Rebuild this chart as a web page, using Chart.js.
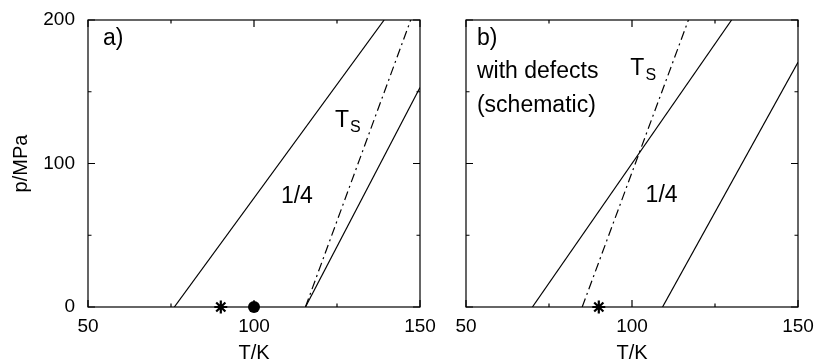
<!DOCTYPE html>
<html>
<head>
<meta charset="utf-8">
<script src="https://cdn.jsdelivr.net/npm/chart.js@4"></script>
<style>
    html, body { margin: 0; padding: 0; background: #fff; overflow: hidden; }
    #wrap { position: relative; width: 815px; height: 360px; }
    canvas { position: absolute; top: 0; }
</style>
</head>
<body>
<div id="wrap">
    <canvas id="chartA" width="440" height="360" style="left:0"></canvas>
    <canvas id="chartB" width="385" height="360" style="left:430px"></canvas>
</div>
<script>
// axis ticks (both panels share them)
const xMajorTicks = [50, 100, 150];
const xMinorTicks = [75, 125];
const yMajorTicks = [0, 100, 200];
const yMinorTicks = [50, 150];

// panel a) - T in K, p in MPa
const aQuarterT = [76, 139.2];
const aQuarterP = [0, 200];
const aUpperT = [115.5, 150];
const aUpperP = [0, 153];
const aTsT = [115.5, 147.2];
const aTsP = [0, 200];
const aStarT = [90];
const aStarP = [0];
const aDotT = [100];
const aDotP = [0];

// panel b) with defects
const bQuarterT = [70, 130];
const bQuarterP = [0, 200];
const bUpperT = [109.2, 150];
const bUpperP = [0, 170.5];
const bTsT = [85, 117];
const bTsP = [0, 200];
const bStarT = [90];
const bStarP = [0];

// text placed in data coordinates
const aLabels = [
    { text: 'a)', t: 54.5, p: 182.6 },
    { text: '1/4', t: 108.1, p: 72.5 },
    { text: 'T', sub: 'S', t: 124.4, p: 125.7 }
];
const bLabels = [
    { text: 'b)', t: 53.3, p: 182.6 },
    { text: 'with defects', t: 53.3, p: 159.6 },
    { text: '(schematic)', t: 53.3, p: 136.2 },
    { text: 'T', sub: 'S', t: 99.5, p: 161.7 },
    { text: '1/4', t: 104.1, p: 73.4 }
];

const FONT = "'Liberation Sans', Arial, Helvetica, sans-serif";

function pts(ts, ps) {
    return ts.map((t, i) => ({ x: t, y: ps[i] }));
}

function solid(ts, ps) {
    return { data: pts(ts, ps), showLine: true, borderColor: '#000', borderWidth: 1.2, pointRadius: 0 };
}

function dashDot(ts, ps) {
    return { data: pts(ts, ps), showLine: true, borderColor: '#000', borderWidth: 1.2, pointRadius: 0, borderDash: [9, 4, 2, 4] };
}

function marker(ts, ps, style) {
    return {
        data: pts(ts, ps), showLine: false, clip: false,
        pointStyle: style, pointRadius: style === 'star' ? 6.5 : 6, borderWidth: style === 'star' ? 2.2 : 0,
        borderColor: '#000', backgroundColor: '#000'
    };
}

// gnuplot-like frame with inward ticks on all four sides
const frameTicks = {
    id: 'frameTicks',
    beforeDatasetsDraw(chart) {
        const { ctx, chartArea: { left, right, top, bottom }, scales: { x, y } } = chart;
        ctx.save();
        ctx.strokeStyle = '#000';
        ctx.lineWidth = 1.2;
        ctx.strokeRect(left, top, right - left, bottom - top);
        ctx.beginPath();
        const xt = (v, len) => {
            const px = x.getPixelForValue(v);
            ctx.moveTo(px, bottom); ctx.lineTo(px, bottom - len);
            ctx.moveTo(px, top); ctx.lineTo(px, top + len);
        };
        const yt = (v, len) => {
            const py = y.getPixelForValue(v);
            ctx.moveTo(left, py); ctx.lineTo(left + len, py);
            ctx.moveTo(right, py); ctx.lineTo(right - len, py);
        };
        xMajorTicks.forEach(v => xt(v, 7));
        xMinorTicks.forEach(v => xt(v, 3.5));
        yMajorTicks.forEach(v => yt(v, 7));
        yMinorTicks.forEach(v => yt(v, 3.5));
        ctx.stroke();
        ctx.restore();
    }
};

const textLabels = {
    id: 'textLabels',
    afterDatasetsDraw(chart, args, opts) {
        const { ctx, scales: { x, y } } = chart;
        ctx.save();
        ctx.fillStyle = '#000';
        ctx.textBaseline = 'alphabetic';
        ctx.textAlign = 'left';
        (opts.items || []).forEach(l => {
            const px = x.getPixelForValue(l.t);
            const py = y.getPixelForValue(l.p);
            ctx.font = '23px ' + FONT;
            ctx.fillText(l.text, px, py);
            if (l.sub) {
                const w = ctx.measureText(l.text).width;
                ctx.font = '16px ' + FONT;
                ctx.fillText(l.sub, px + w + 1, py + 5);
            }
        });
        ctx.restore();
    }
};

function buildOptions(showY, yAxisWidth, rightPad, labels) {
    return {
        responsive: false,
        animation: false,
        events: [],
        layout: { autoPadding: false, padding: { top: 20, right: rightPad, left: 0, bottom: 0 } },
        plugins: {
            legend: { display: false },
            tooltip: { enabled: false },
            textLabels: { items: labels }
        },
        scales: {
            x: {
                type: 'linear', min: 50, max: 150,
                grid: { display: false, drawTicks: false },
                border: { display: false },
                ticks: { stepSize: 50, padding: 8, color: '#000', font: { family: FONT, size: 19 }, maxRotation: 0 },
                title: { display: true, text: 'T/K', color: '#000', font: { family: FONT, size: 20, lineHeight: 1 }, padding: { top: 0, bottom: -3 } },
                // fixed axis box, labels may overhang the plot edges
                afterFit: s => { s.height = 53; s.paddingLeft = 0; s.paddingRight = 0; }
            },
            y: {
                type: 'linear', min: 0, max: 200,
                grid: { display: false, drawTicks: false },
                border: { display: false },
                ticks: { display: showY, stepSize: 100, padding: 13, color: '#000', font: { family: FONT, size: 19 } },
                title: { display: showY, text: 'p/MPa', color: '#000', font: { family: FONT, size: 20, lineHeight: 1 }, padding: { top: 11, bottom: 0 } },
                afterFit: s => { s.width = yAxisWidth; s.paddingTop = 0; s.paddingBottom = 0; }
            }
        }
    };
}

new Chart(document.getElementById('chartA').getContext('2d'), {
    type: 'scatter',
    data: {
        datasets: [
            solid(aQuarterT, aQuarterP),
            solid(aUpperT, aUpperP),
            dashDot(aTsT, aTsP),
            marker(aStarT, aStarP, 'star'),
            marker(aDotT, aDotP, 'circle')
        ]
    },
    options: buildOptions(true, 88, 20, aLabels),
    plugins: [frameTicks, textLabels]
});

new Chart(document.getElementById('chartB').getContext('2d'), {
    type: 'scatter',
    data: {
        datasets: [
            solid(bQuarterT, bQuarterP),
            solid(bUpperT, bUpperP),
            dashDot(bTsT, bTsP),
            marker(bStarT, bStarP, 'star')
        ]
    },
    options: buildOptions(false, 36, 17, bLabels),
    plugins: [frameTicks, textLabels]
});
</script>
</body>
</html>
